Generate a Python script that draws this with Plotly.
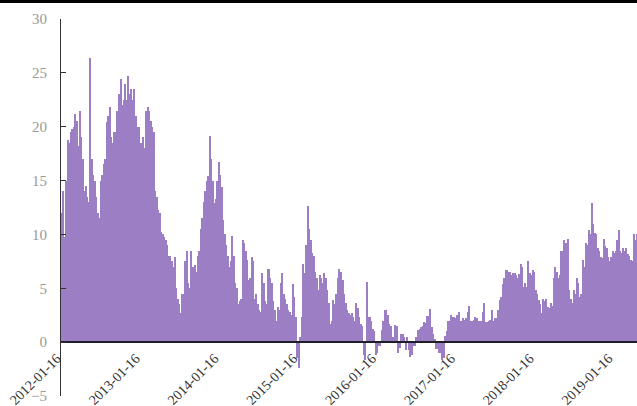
import pandas as pd
import plotly.graph_objects as go

# Weekly values (starting 2012-01-16)
start_date = "2012-01-16"
values = [
    12, 14, 9.8, 15, 18.8, 18.5, 19.5, 19.8, 20, 21.2,
    20.5, 18.2, 21.5, 19, 17, 14, 14.5, 13.5, 13, 26.4,
    17, 15.5, 15, 13.5, 12, 11.5, 15, 15.5, 16.5, 17,
    20.4, 21, 21.8, 19, 18.5, 19.5, 19.5, 21.5, 23, 24.4,
    22, 22.5, 24, 22.5, 24.7, 23, 23.5, 22.5, 23.5, 21,
    20, 20, 18.5, 18.5, 19, 18, 21.5, 21.8, 21.5, 20.5,
    20, 19.5, 14, 13.5, 12.3, 12, 10.2, 10, 9.8, 9.5,
    9, 8, 8, 7.5, 7, 7.9, 5, 4, 3.5, 2.7,
    4.5, 4.5, 7.5, 8.5, 5.5, 5, 8.5, 7, 7.2, 6.5,
    8, 8.5, 10.5, 11.5, 13, 14, 15, 15.4, 19.1, 17,
    15, 12.9, 13.3, 15, 16.7, 15.5, 14.4, 11.3, 10, 9,
    8, 7, 7.5, 9.9, 8, 5.5, 5, 3.5, 3.8, 4,
    9.5, 9.2, 8.5, 7.6, 5.8, 6, 7.9, 7.5, 4, 4.5,
    3.5, 3, 2.8, 6.4, 5.5, 3.8, 3.5, 6.8, 6, 5.5,
    3.8, 3, 2, 3.3, 3, 5.5, 6.4, 4.5, 4, 3.5,
    3, 2.8, 2.5, 5.4, 4.2, 2.3, -1.5, -2.4, 0.5, 2.3,
    7.3, 6.4, 9, 12.6, 10.5, 9.5, 8.3, 8, 6.5, 6,
    4.8, 6.2, 6, 5.5, 6.4, 6, 4.8, 3.6, 1.7, 2,
    3.9, 3.5, 4.5, 6, 6.8, 6.5, 5.8, 4.5, 3.6, 3,
    2.7, 2.5, 2.7, 2.3, 2, 3.6, 3.2, 2.3, 1.7, 1.5,
    -1.2, -1.7, 5.6, 2.3, 2.3, 2, 1.2, 1, -1.2, -1,
    -0.4, -0.4, 1.1, 2, 3, 3, 2.5, 1.7, 1.5, 0.5,
    0.5, 1.6, 1.5, -1, -0.5, 0.8, 0.8, 0.5, -0.7, 0.5,
    -0.7, -1.4, -1.2, -0.4, -0.4, 0.5, 1.1, 1.2, 1.4, 1.5,
    1.9, 1.8, 2.4, 2.4, 3.1, 1.4, 0.8, 0.3, -0.6, -0.6,
    -1, -1, -1.7, -1.5, 0.6, 1, 2, 2, 2.5, 2.3,
    2.3, 2.2, 2.5, 2.8, 2, 2, 2.2, 2.1, 2.2, 2.8,
    3.4, 2, 2, 2.1, 2.3, 2.2, 2, 2, 2, 2.8,
    3.6, 1.9, 1.9, 2, 2.1, 3, 2, 2.2, 2.2, 3,
    3.9, 4.2, 5.4, 6, 6.7, 6.7, 6.5, 6.5, 6.2, 6.4,
    6.4, 6.2, 6, 6.3, 7.3, 7, 5.1, 5.5, 5.1, 7.5,
    6.4, 6.2, 6.7, 6.5, 4.8, 4.5, 3.9, 3.5, 2.7, 4,
    3.8, 4, 3.3, 3.2, 3.6, 3.4, 6, 7, 6.5, 6,
    6.2, 8.5, 8.5, 9.5, 9.2, 9.6, 4.8, 4, 3.6, 4.8,
    4.5, 6, 5.5, 4.2, 4.5, 7.6, 7, 9.2, 9, 10.4,
    10, 12.9, 11, 10.1, 10, 8.7, 8.5, 7.9, 7.8, 9.6,
    8.9, 8.7, 7.9, 7.5, 7.9, 8.5, 8.3, 8.5, 9.5, 10.4,
    8.5, 8.3, 8.7, 8.5, 8.7, 8.2, 8, 7.6, 7.5, 10,
    9.5, 10,
]
dates = pd.date_range(start_date, periods=len(values), freq="7D")

tick_labels = ["2012-01-16", "2013-01-16", "2014-01-16", "2015-01-16",
               "2016-01-16", "2017-01-16", "2018-01-16", "2019-01-16"]
y_ticks = [-5, 0, 5, 10, 15, 20, 25, 30]

FONT = "Liberation Serif"

fig = go.Figure()
fig.add_trace(go.Bar(
    x=dates, y=values,
    marker=dict(color="#9b7ec4", line=dict(width=0)),
    showlegend=False,
))

range_start = pd.Timestamp("2012-01-12")
range_end = range_start + pd.Timedelta(days=2670)

fig.update_layout(
    width=637, height=406,
    margin=dict(l=61, r=0, t=19, b=10),
    paper_bgcolor="white", plot_bgcolor="white",
    bargap=0,
    font=dict(family=FONT),
    xaxis=dict(
        type="date",
        range=[range_start, range_end],
        tickvals=[pd.Timestamp(t) for t in tick_labels],
        ticktext=tick_labels,
        tickangle=-45,
        tickfont=dict(family=FONT, size=14, color="#333"),
        showgrid=False, zeroline=False,
        showline=True, linecolor="#1e1e28", linewidth=1.6,
        ticks="",
        ticklabelstandoff=2,
        ticklabelshift=-5,
        automargin=False,
        anchor="free", position=(396 - 342) / 377,
    ),
    yaxis=dict(
        range=[-5, 30],
        tickvals=y_ticks,
        tickfont=dict(family=FONT, size=15, color="#999"),
        showgrid=False, zeroline=False,
        showline=True, linecolor="#333", linewidth=1,
        ticks="inside", ticklen=5, tickcolor="#333",
        ticklabelstandoff=10,
        automargin=False,
    ),
    shapes=[dict(type="line", xref="paper", yref="paper",
                 x0=-61 / 576, x1=1.01, y0=1 + 17.5 / 377, y1=1 + 17.5 / 377,
                 line=dict(color="black", width=3))],
)

fig.write_html(
    "out.html",
    config={"displayModeBar": False},
    post_script="document.body.style.margin='0';document.body.style.overflow='hidden';",
)
